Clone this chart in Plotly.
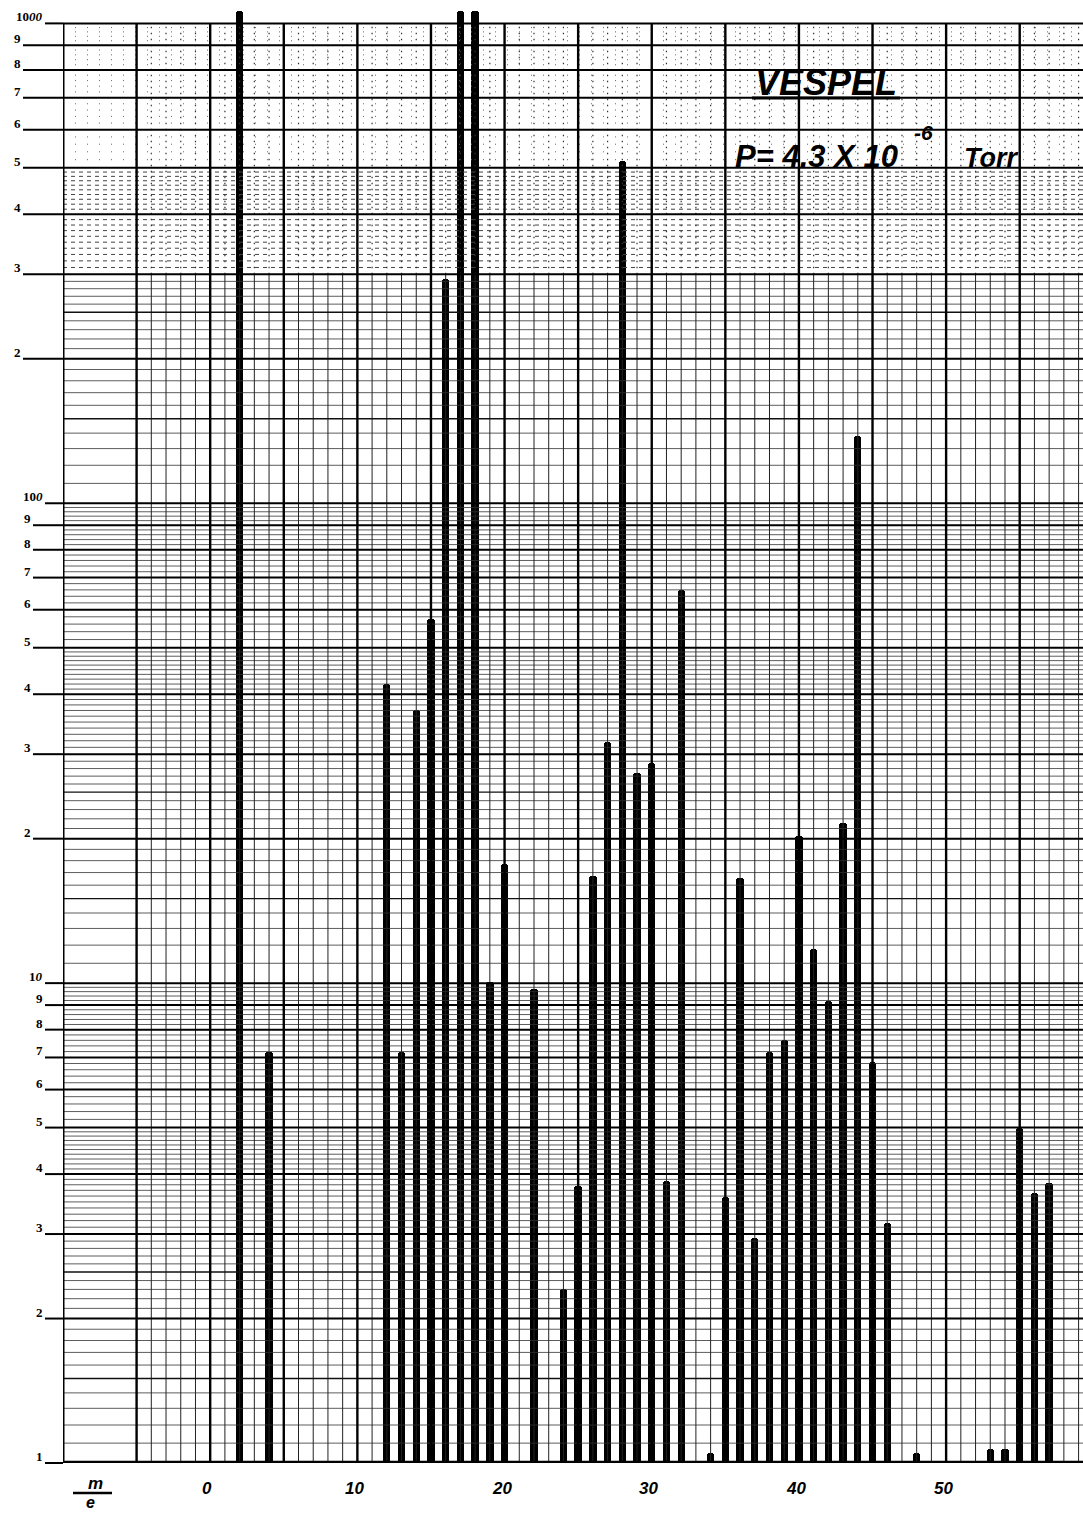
import numpy as np
import plotly.graph_objects as go

# ---------------- data ----------------
mass = [2, 4, 12, 13, 14, 15, 16, 17, 18, 19, 20, 22, 24, 25, 26, 27, 28, 29, 30, 31,
        32, 34, 35, 36, 37, 38, 39, 40, 41, 42, 43, 44, 45, 46, 48, 53, 54, 55, 56, 57]
intensity = [1060, 7.2, 42, 7.2, 37, 57.5, 294, 1060, 1060, 10.05, 17.7, 9.7, 2.3, 3.77,
             16.7, 31.8, 516, 27.4, 28.7, 3.87, 66, 1.05, 3.58, 16.6, 2.94, 7.18, 7.6,
             20.3, 11.8, 9.2, 21.6, 138, 6.85, 3.16, 1.05, 1.07, 1.07, 4.99, 3.65, 3.83]

x_tick_vals = [0, 10, 20, 30, 40, 50]
x_tick_text = ["0", "10", "20", "30", "40", "50"]

y_label_vals = [1000, 900, 800, 700, 600, 500, 400, 300, 200,
                100, 90, 80, 70, 60, 50, 40, 30, 20,
                10, 9, 8, 7, 6, 5, 4, 3, 2, 1]
y_label_text = ["10<i>00</i>", "9", "8", "7", "6", "5", "4", "3", "2",
                "10<i>0</i>", "9", "8", "7", "6", "5", "4", "3", "2",
                "1<i>0</i>", "9", "8", "7", "6", "5", "4", "3", "2", "1"]

title_text = "VESPEL"
pressure_text = "P= 4.3 X 10"
pressure_exp = "-6"
unit_text = "Torr"

# ---------------- geometry ----------------
W, H = 1083, 1514
ML, MR, MT, MB = 63, 0, 9, 51
PW = W - ML - MR
PH = H - MT - MB
X0, X1 = -10, 59.3
YTOP = 3.03  # log10 of top of range


def px2paper_x(px):
    return (px - ML) / PW


def py2paper_y(py):
    return (H - MB - py) / PH


fig = go.Figure()


def add_segments(segs, width, color, dash="solid"):
    xs, ys = [], []
    for (xa, ya, xb, yb) in segs:
        xs += [xa, xb, None]
        ys += [ya, yb, None]
    fig.add_trace(go.Scatter(x=xs, y=ys, mode="lines",
                             line=dict(color=color, width=width, dash=dash),
                             hoverinfo="skip", showlegend=False))


# ---------------- graph-paper grid ----------------
h_major, h_med, h_minor, h_minor_dash, h_minor_sparse = [], [], [], [], []
for dec in [1, 10, 100]:
    for k in range(1, 10):
        v = k * dec
        if v > 1:
            h_major.append((X0, v, X1, v))
    for t in np.arange(1.1, 5.0, 0.1):
        t = round(t, 1)
        if abs(t - round(t)) < 1e-9:
            continue
        v = t * dec
        if t in (1.5, 2.5):
            h_med.append((X0, v, X1, v))
        elif dec == 100 and t >= 3.0:
            h_minor_dash.append((X0, v, X1, v))
        else:
            h_minor.append((X0, v, X1, v))
    for t in np.arange(5.2, 10.0, 0.2):
        t = round(t, 1)
        if abs(t - round(t)) < 1e-9:
            continue
        v = t * dec
        if dec == 100:
            h_minor_sparse.append((X0, v, X1, v))
        else:
            h_minor.append((X0, v, X1, v))
h_major.append((X0, 1000, X1, 1000))

v_major, v_minor, v_minor_dot = [], [], []
for u in range(-5, 60):
    if u % 5 == 0:
        v_major.append((u, 1, u, 1000))
    else:
        v_minor.append((u, 1, u, 300))
        v_minor_dot.append((u, 300, u, 1000))

add_segments(h_minor_sparse, 1.0, "#666", "1px,11px")
add_segments(h_minor_dash, 1.0, "#444", "4px,4px")
add_segments(v_minor_dot, 1.2, "#333", "1.5px,4.5px")
add_segments(h_minor, 0.8, "#333")
add_segments(v_minor, 1.0, "#222")
add_segments(h_med, 1.4, "#111")
add_segments(h_major, 2.0, "#000")
add_segments(v_major, 2.4, "#000")
add_segments([(X0, 1, X0, 1000)], 3.0, "#000")
add_segments([(X0, 1, X1, 1)], 4.5, "#000")

# ---------------- peaks ----------------
fig.add_trace(go.Bar(x=mass, y=intensity, width=0.5,
                     marker=dict(color="#000", line=dict(width=0)),
                     showlegend=False, hoverinfo="x+y"))

# ---------------- annotations / labels ----------------
annotations = []
shapes = []

for v, t in zip(y_label_vals, y_label_text):
    if v >= 1000 or v == 100 or v <= 10:
        right = 45
    elif v > 100:
        right = 23
    else:
        right = 33
    yp = np.log10(v) / YTOP
    annotations.append(dict(xref="paper", yref="paper", x=px2paper_x(right), y=yp,
                            xanchor="right", yanchor="bottom", yshift=-3,
                            text="<b>" + t + "</b>", showarrow=False,
                            font=dict(family="Liberation Serif", size=13, color="#000")))
    shapes.append(dict(type="line", xref="paper", yref="paper",
                       x0=px2paper_x(right), x1=0, y0=yp, y1=yp,
                       line=dict(color="#000", width=2)))

for xv, t in zip(x_tick_vals, x_tick_text):
    annotations.append(dict(xref="x", yref="paper", x=xv, y=0, yshift=-25, xshift=-3,
                            xanchor="center", yanchor="middle",
                            text="<b><i>" + t + "</i></b>", showarrow=False,
                            font=dict(family="Liberation Sans", size=17, color="#000")))

# m/e fraction
annotations.append(dict(xref="paper", yref="paper", x=px2paper_x(95), y=py2paper_y(1483),
                        xanchor="center", yanchor="middle", text="<b><i>m</i></b>",
                        showarrow=False,
                        font=dict(family="Liberation Sans", size=17, color="#000")))
annotations.append(dict(xref="paper", yref="paper", x=px2paper_x(90), y=py2paper_y(1502),
                        xanchor="center", yanchor="middle", text="<b><i>e</i></b>",
                        showarrow=False,
                        font=dict(family="Liberation Sans", size=16, color="#000")))
shapes.append(dict(type="line", xref="paper", yref="paper",
                   x0=px2paper_x(73), x1=px2paper_x(112),
                   y0=py2paper_y(1493), y1=py2paper_y(1493),
                   line=dict(color="#000", width=2.5)))

# handwritten notes
annotations.append(dict(xref="paper", yref="paper", x=px2paper_x(753), y=py2paper_y(98),
                        xanchor="left", yanchor="bottom", yshift=-7,
                        text="<b><i>" + title_text + "</i></b>", showarrow=False,
                        font=dict(family="Liberation Sans", size=36, color="#000")))
shapes.append(dict(type="line", xref="paper", yref="paper",
                   x0=px2paper_x(752), x1=px2paper_x(900),
                   y0=py2paper_y(98), y1=py2paper_y(98),
                   line=dict(color="#000", width=3)))
annotations.append(dict(xref="paper", yref="paper", x=px2paper_x(733), y=py2paper_y(169),
                        xanchor="left", yanchor="bottom", yshift=-7,
                        text="<b><i>" + pressure_text + "</i></b>", showarrow=False,
                        font=dict(family="Liberation Sans", size=31, color="#000")))
annotations.append(dict(xref="paper", yref="paper", x=px2paper_x(912), y=py2paper_y(142),
                        xanchor="left", yanchor="bottom", yshift=-4,
                        text="<b><i>" + pressure_exp + "</i></b>", showarrow=False,
                        font=dict(family="Liberation Sans", size=21, color="#000")))
annotations.append(dict(xref="paper", yref="paper", x=px2paper_x(962), y=py2paper_y(169),
                        xanchor="left", yanchor="bottom", yshift=-6,
                        text="<b><i>" + unit_text + "</i></b>", showarrow=False,
                        font=dict(family="Liberation Sans", size=27, color="#000")))

fig.update_layout(
    width=W, height=H,
    margin=dict(l=ML, r=MR, t=MT, b=MB, pad=0),
    paper_bgcolor="#fff", plot_bgcolor="#fff",
    barcornerradius=3,
    bargap=0,
    showlegend=False,
    annotations=annotations,
    shapes=shapes,
    xaxis=dict(range=[X0, X1], showgrid=False, zeroline=False, showline=False,
               showticklabels=False, ticks="", fixedrange=True),
    yaxis=dict(type="log", range=[0, YTOP], showgrid=False, zeroline=False,
               showline=False, showticklabels=False, ticks="", fixedrange=True),
)

fig.write_html("out.html")
